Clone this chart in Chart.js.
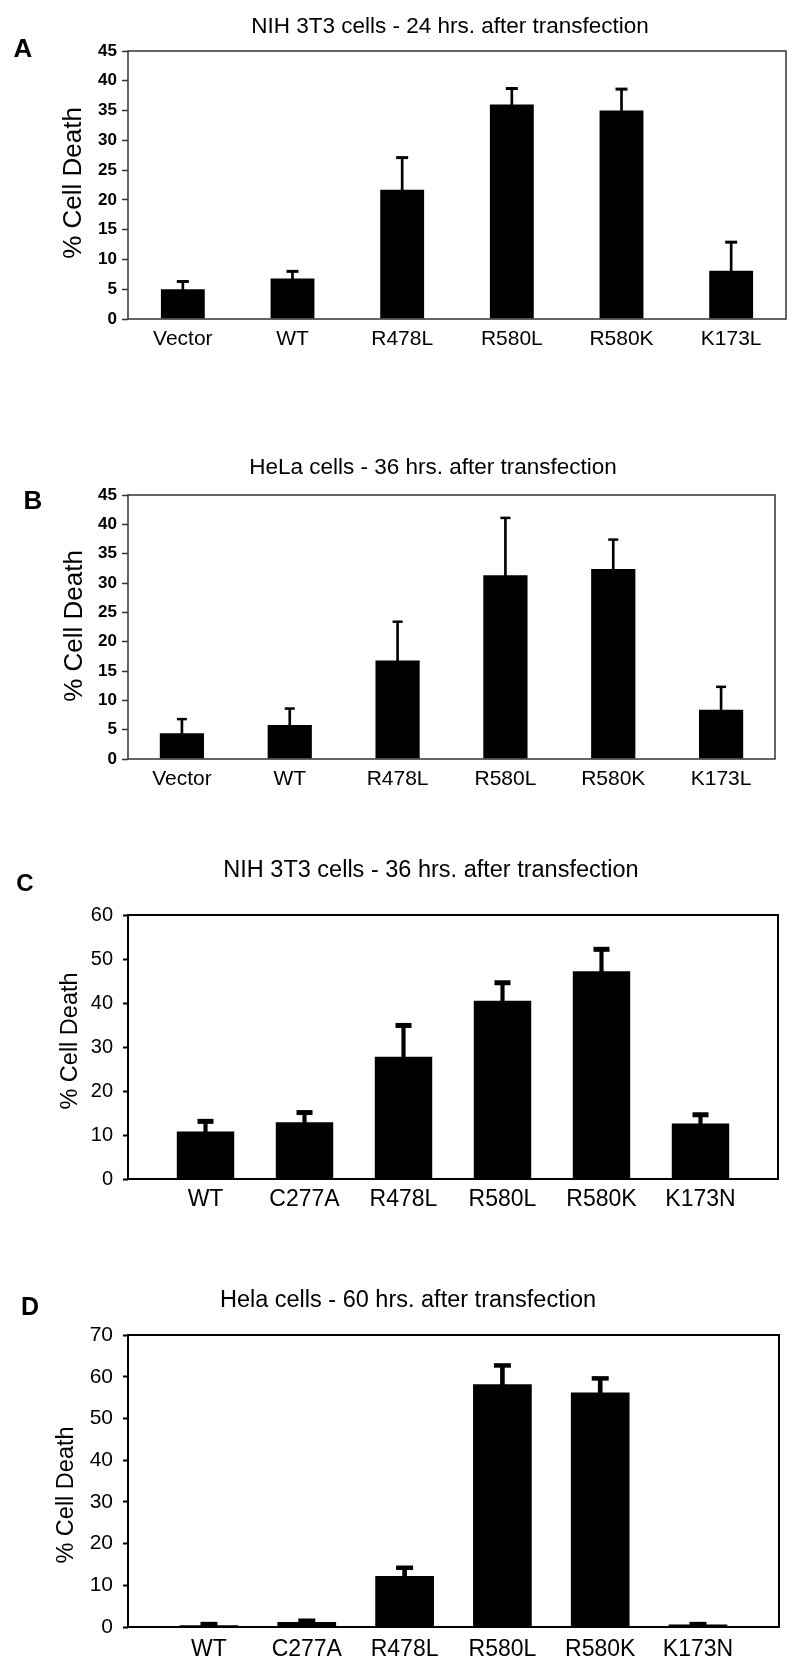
<!DOCTYPE html>
<html>
<head>
<meta charset="utf-8">
<title>% Cell Death after transfection</title>
<script src="https://cdn.jsdelivr.net/npm/chart.js@4.4.1/dist/chart.umd.min.js"></script>
<style>
  body { margin: 0; background: #fff; }
  .panel { position: absolute; left: 0; width: 800px; }
</style>
</head>
<body>
<div class="panel" style="top:0px;height:420px"><canvas id="chartA"></canvas></div>
<div class="panel" style="top:420px;height:420px"><canvas id="chartB"></canvas></div>
<div class="panel" style="top:840px;height:415px"><canvas id="chartC"></canvas></div>
<div class="panel" style="top:1255px;height:420px"><canvas id="chartD"></canvas></div>
<script>
// categories
var labelsAB = ["Vector", "WT", "R478L", "R580L", "R580K", "K173L"];
var labelsCD = ["WT", "C277A", "R478L", "R580L", "R580K", "K173N"];

// % cell death (bar height) and upper error (length of the error bar)
var deathA = [5.0, 6.8, 21.7, 36.0, 35.0, 8.1];
var errA   = [1.3, 1.2, 5.4, 2.7, 3.6, 4.8];
var deathB = [4.4, 5.8, 16.8, 31.3, 32.4, 8.4];
var errB   = [2.4, 2.8, 6.6, 9.8, 5.0, 3.9];
var deathC = [10.8, 12.9, 27.8, 40.5, 47.2, 12.6];
var errC   = [2.3, 2.2, 7.1, 4.1, 5.0, 2.0];
var deathD = [0.4, 1.2, 12.2, 58.2, 56.2, 0.6];
var errD   = [0.3, 0.3, 2.0, 4.5, 3.4, 0.1];

// y tick labels
var yTicksAB = [0, 5, 10, 15, 20, 25, 30, 35, 40, 45];
var yTicksC  = [0, 10, 20, 30, 40, 50, 60];
var yTicksD  = [0, 10, 20, 30, 40, 50, 60, 70];

var titleA = "NIH 3T3 cells - 24 hrs. after transfection";
var titleB = "HeLa cells - 36 hrs. after transfection";
var titleC = "NIH 3T3 cells - 36 hrs. after transfection";
var titleD = "Hela cells - 60 hrs. after transfection";
var yTitle = "% Cell Death";

var FONT = "'Liberation Sans', Arial, Helvetica, sans-serif";

// draws frame, panel letter, title and y title
var decorPlugin = {
  id: "decor",
  afterDraw: function (chart, args, o) {
    var ctx = chart.ctx;
    var a = chart.chartArea;
    ctx.save();
    ctx.strokeStyle = o.frameColor;
    ctx.lineWidth = o.frameWidth;
    ctx.strokeRect(a.left, a.top, a.right - a.left, a.bottom - a.top);

    ctx.fillStyle = "#000";
    ctx.textAlign = "center";
    ctx.textBaseline = "alphabetic";
    // panel letter
    ctx.font = "bold " + o.letterSize + "px " + FONT;
    ctx.fillText(o.letter, o.letterX, o.letterY + o.letterSize * 0.358);
    // title
    ctx.font = o.titleSize + "px " + FONT;
    ctx.fillText(o.title, o.titleX, o.titleY + o.titleSize * 0.358);
    // y title
    ctx.font = o.yTitleSize + "px " + FONT;
    ctx.translate(o.yTitleX + o.yTitleSize * 0.358, o.yTitleY);
    ctx.rotate(-Math.PI / 2);
    ctx.fillText(yTitle, 0, 0);
    ctx.restore();
  },
};

function makeChart(id, labels, values, errors, yTicks, s) {
  var bars = [], stems = [], caps = [];
  for (var i = 0; i < labels.length; i++) {
    bars.push({ x: i, y: values[i] });
    stems.push({ x: i, y: [values[i] - 0.2, values[i] + errors[i]] });
    caps.push({ x: i, y: values[i] + errors[i] });
  }

  return new Chart(document.getElementById(id), {
    type: "bar",
    data: {
      datasets: [
        {
          data: bars,
          backgroundColor: "#000",
          borderWidth: 0,
          grouped: false,
          categoryPercentage: 1,
          barPercentage: s.barPct,
          order: 3,
        },
        {
          data: stems,
          backgroundColor: "#000",
          borderWidth: 0,
          grouped: false,
          barThickness: s.stemW,
          order: 2,
        },
        {
          type: "line",
          data: caps,
          showLine: false,
          pointStyle: "line",
          pointRadius: s.capW / 2,
          pointBorderWidth: s.capT,
          borderColor: "#000",
          pointBorderColor: "#000",
          order: 1,
        },
      ],
    },
    options: {
      responsive: true,
      maintainAspectRatio: false,
      animation: false,
      events: [],
      layout: { padding: { left: 0, top: s.top, right: s.right, bottom: 0 } },
      plugins: {
        legend: { display: false },
        tooltip: { enabled: false },
        decor: s.decor,
      },
      scales: {
        x: {
          type: "linear",
          bounds: "data",
          offset: false,
          min: -0.5 - s.pad,
          max: labels.length - 0.5 + s.pad,
          afterBuildTicks: function (scale) {
            scale.ticks = labels.map(function (l, i) { return { value: i }; });
          },
          afterFit: function (scale) { scale.height = s.xH; },
          ticks: {
            callback: function (v) { return labels[v]; },
            autoSkip: false,
            maxRotation: 0,
            color: "#000",
            font: { family: FONT, size: s.xFont },
            padding: s.xPad,
          },
          grid: { display: false, drawTicks: false, offset: false },
          border: { display: false },
        },
        y: {
          min: 0,
          max: yTicks[yTicks.length - 1],
          afterBuildTicks: function (scale) {
            scale.ticks = yTicks.map(function (v) { return { value: v }; });
          },
          afterFit: function (scale) { scale.width = 128; },
          ticks: {
            color: "#000",
            font: { family: FONT, size: s.yFont, weight: s.yBold ? "bold" : "normal" },
            padding: s.yPad,
          },
          grid: {
            drawOnChartArea: false,
            drawTicks: true,
            tickLength: s.tickLen,
            tickColor: s.decor.frameColor,
            tickWidth: s.decor.frameWidth,
          },
          border: { display: false },
        },
      },
    },
    plugins: [decorPlugin],
  });
}

makeChart("chartA", labelsAB, deathA, errA, yTicksAB, {
  top: 51, right: 14, xH: 101, pad: 0, barPct: 0.40,
  stemW: 2, capW: 12, capT: 3,
  xFont: 21, xPad: 8, yFont: 17, yBold: true, yPad: 5, tickLen: 6,
  decor: { frameColor: "#333", frameWidth: 1.5, letter: "A", letterSize: 26, letterX: 23, letterY: 48,
           title: titleA, titleSize: 22.5, titleX: 450, titleY: 25,
           yTitleSize: 26, yTitleX: 72, yTitleY: 183 },
});

makeChart("chartB", labelsAB, deathB, errB, yTicksAB, {
  top: 75, right: 25, xH: 81, pad: 0, barPct: 0.41,
  stemW: 2, capW: 10, capT: 2.5,
  xFont: 21, xPad: 8, yFont: 17, yBold: true, yPad: 5, tickLen: 6,
  decor: { frameColor: "#333", frameWidth: 1.5, letter: "B", letterSize: 26, letterX: 33, letterY: 80,
           title: titleB, titleSize: 22.5, titleX: 433, titleY: 46,
           yTitleSize: 26, yTitleX: 73, yTitleY: 206 },
});

makeChart("chartC", labelsCD, deathC, errC, yTicksC, {
  top: 75, right: 22, xH: 76, pad: 0.283, barPct: 0.58,
  stemW: 3.5, capW: 16, capT: 5,
  xFont: 23, xPad: 7, yFont: 20, yBold: false, yPad: 10, tickLen: 5,
  decor: { frameColor: "#000", frameWidth: 2, letter: "C", letterSize: 24, letterX: 25, letterY: 42,
           title: titleC, titleSize: 23.5, titleX: 431, titleY: 29,
           yTitleSize: 23.5, yTitleX: 69, yTitleY: 201 },
});

makeChart("chartD", labelsCD, deathD, errD, yTicksD, {
  top: 80, right: 21, xH: 48, pad: 0.328, barPct: 0.60,
  stemW: 4, capW: 17, capT: 4.5,
  xFont: 23, xPad: 9, yFont: 21, yBold: false, yPad: 10, tickLen: 5,
  decor: { frameColor: "#000", frameWidth: 2, letter: "D", letterSize: 25, letterX: 30, letterY: 51,
           title: titleD, titleSize: 23.5, titleX: 408, titleY: 44,
           yTitleSize: 23.5, yTitleX: 65, yTitleY: 240 },
});
</script>
</body>
</html>
